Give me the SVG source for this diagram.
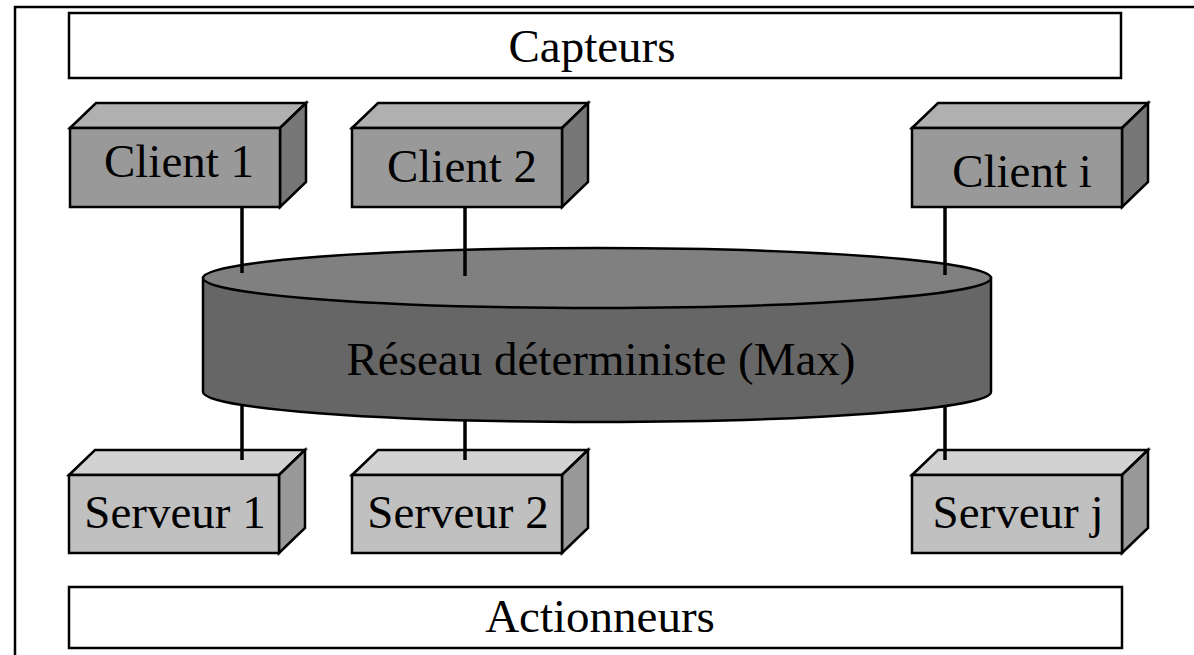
<svg xmlns="http://www.w3.org/2000/svg" width="1194" height="655" viewBox="0 0 1194 655">
  <style>
    text { font-family: "Liberation Serif", "Times New Roman", serif; font-size: 47px; fill: #000; text-anchor: middle; }
    .frame { fill: none; stroke: #000; stroke-width: 2.5; }
    .bar { fill: #fff; stroke: #000; stroke-width: 2.5; }
    .edge { stroke: #000; stroke-width: 2.5; stroke-linejoin: miter; }
    .cl-front { fill: #999999; }
    .cl-top { fill: #b0b0b0; }
    .cl-side { fill: #777777; }
    .sv-front { fill: #c0c0c0; }
    .sv-top { fill: #d2d2d2; }
    .sv-side { fill: #999999; }
    .net-side { fill: #666666; stroke: #000; stroke-width: 2.5; }
    .net-top { fill: #808080; stroke: #000; stroke-width: 2.5; }
    .link { stroke: #000; stroke-width: 3.5; fill: none; }
  </style>
  <defs>
    <!-- 3D box: front face 210x79, depth offset 26 -->
    <g id="box-client">
      <polygon class="cl-top edge" points="0,0 26,-25 236,-25 210,0"/>
      <polygon class="cl-side edge" points="210,0 236,-25 236,54 210,79"/>
      <rect class="cl-front edge" x="0" y="0" width="210" height="79"/>
    </g>
    <g id="box-server">
      <polygon class="sv-top edge" points="0,0 26,-25 236,-25 210,0"/>
      <polygon class="sv-side edge" points="210,0 236,-25 236,53 210,78"/>
      <rect class="sv-front edge" x="0" y="0" width="210" height="78"/>
    </g>
  </defs>

  <rect width="1194" height="655" fill="#fff"/>
  <path class="frame" d="M15,660 V7 H1200"/>

  <g id="capteurs">
    <rect class="bar" x="69" y="13" width="1052" height="65"/>
    <text x="592" y="62">Capteurs</text>
  </g>

  <g id="actionneurs">
    <rect class="bar" x="69" y="587" width="1053" height="61"/>
    <text x="600" y="632">Actionneurs</text>
  </g>

  <g id="client1">
    <use href="#box-client" x="70" y="128"/>
    <text x="179" y="177">Client 1</text>
  </g>
  <g id="client2">
    <use href="#box-client" x="352" y="128"/>
    <text x="462" y="182">Client 2</text>
  </g>
  <g id="clienti">
    <use href="#box-client" x="912" y="128"/>
    <text x="1022" y="187">Client i</text>
  </g>

  <g id="serveur1">
    <use href="#box-server" x="69" y="475"/>
    <text x="175" y="528">Serveur 1</text>
  </g>
  <g id="serveur2">
    <use href="#box-server" x="352" y="475"/>
    <text x="458" y="528">Serveur 2</text>
  </g>
  <g id="serveurj">
    <use href="#box-server" x="912" y="475"/>
    <text x="1018" y="528">Serveur j</text>
  </g>

  <g id="reseau">
    <path class="net-side" d="M203,278 V392 A394,30 0 0 0 991,392 V278 Z"/>
    <ellipse class="net-top" cx="597" cy="278" rx="394" ry="30"/>
    <text x="601" y="375">Réseau déterministe (Max)</text>
  </g>

  <g id="connectors">
    <line class="link" x1="242" y1="207" x2="242" y2="273"/>
    <line class="link" x1="465" y1="207" x2="465" y2="276"/>
    <line class="link" x1="945" y1="207" x2="945" y2="275"/>
    <line class="link" x1="242" y1="406" x2="242" y2="460"/>
    <line class="link" x1="465" y1="421" x2="465" y2="460"/>
    <line class="link" x1="945" y1="407" x2="945" y2="460"/>
  </g>
</svg>
